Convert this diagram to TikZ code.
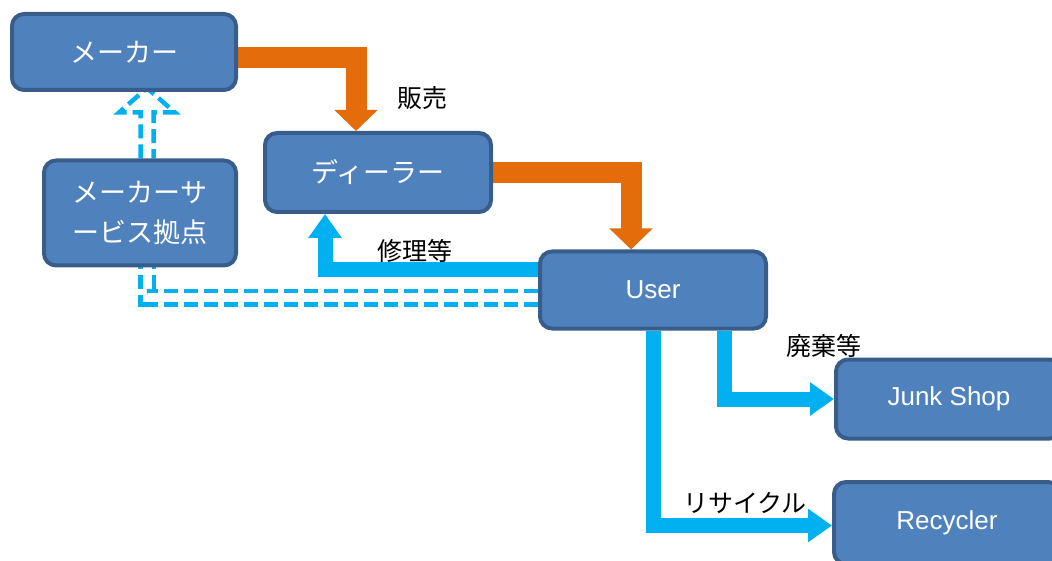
\documentclass[tikz,border=0pt]{standalone}
\usepackage{fontspec}
\setmainfont{Liberation Sans}
\newfontfamily\jpfont{Noto Sans CJK JP}
\usetikzlibrary{arrows.meta,backgrounds,calc}
\definecolor{Box}{HTML}{4F81BD}
\definecolor{BoxLine}{HTML}{385D8A}
\definecolor{Orange}{HTML}{E46C0A}
\definecolor{Cyan}{HTML}{00B0F0}

\begin{document}
\begin{tikzpicture}[
  x=1pt,
  y=-1pt,
  box/.style={draw=BoxLine, fill=Box, line width=4pt, rounded corners=12pt,
    text=white, align=center, inner sep=0pt,
    minimum width=226pt, minimum height=79pt,
    font=\fontsize{26}{38}\selectfont},
  jbox/.style={box, font=\fontsize{27}{40}\selectfont\jpfont},
  tag/.style={font=\fontsize{25}{30}\selectfont\jpfont},
  sale/.style={Orange, line width=21pt, -{Triangle[width=42pt,length=21pt]}},
  flow/.style={Cyan, line width=15pt, -{Triangle[width=32pt,length=24pt]}},
  dashline/.style={Cyan, line width=4.5pt, dash pattern=on 14pt off 6pt}
  ]
\useasboundingbox (0,0) rectangle (1052,561);
\path
  (124,52) node[jbox, minimum width=224pt, minimum height=76pt] (maker) {メーカー}
  (140,213) node[jbox, minimum width=192pt, minimum height=105pt] (service) {メーカーサ\\ービス拠点}
  (378,172.5) node[jbox] (dealer) {ディーラー}
  (653,290) node[box, minimum height=77pt] (user) {User}
  (949,399) node[box] (junk) {Junk Shop}
  (947,523) node[box, minimum height=82pt] (recycler) {Recycler}
  (422,98) node[tag] (sold) {販売}
  (415,251) node[tag] (repair) {修理等}
  (824,346) node[tag] (scrap) {廃棄等}
  (745,503) node[tag] (recycle) {リサイクル};
\begin{scope}[on background layer]
\draw[sale] ([yshift=-6pt]maker.east) -| ([xshift=-22pt]dealer.north);
\draw[sale] (dealer.east) -| ([xshift=-22pt]user.north);
\draw[flow] ([yshift=20pt]user.west) -| ([xshift=-53pt]dealer.south);
\draw[flow] ([xshift=71pt]user.south) |- (junk.west);
\draw[flow] (user.south) |- ([yshift=-2.5pt]recycler.west);
% dashed link to the service point and on to the maker
\draw[dashline, double=white, double distance=9pt]
  ([yshift=-8pt]user.west) -| ([xshift=7pt]service.south);
\coordinate (up) at ([xshift=7pt]service.north);
\coordinate (tip) at ([yshift=4pt]up |- maker.south);
\draw[dashline] ($(up)+(-6.5,0)$) -- ($(up)+(-6.5,-46)$) -- ($(up)+(-28,-46)$)
  -- (tip) -- ($(up)+(28,-46)$) -- ($(up)+(6.5,-46)$) -- ($(up)+(6.5,0)$);
\end{scope}
\end{tikzpicture}
\end{document}
